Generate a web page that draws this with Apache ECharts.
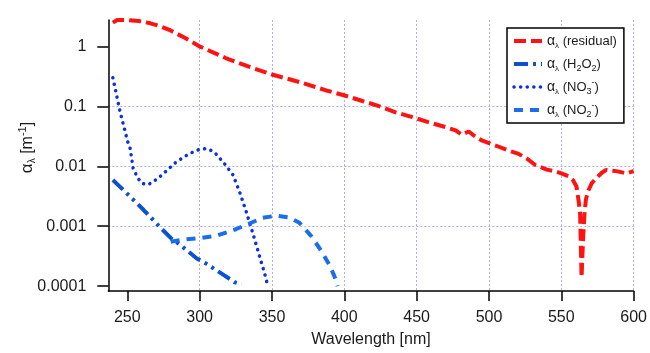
<!DOCTYPE html>
<html>
<head>
<meta charset="utf-8">
<title>Absorption coefficients</title>
<script src="https://cdn.jsdelivr.net/npm/echarts@6/dist/echarts.min.js"></script>
<style>
  html, body { margin: 0; padding: 0; background: #fff; }
  #chart { width: 650px; height: 353px; }
</style>
</head>
<body>
<div id="chart"></div>
<script>
// axis ticks
const xTicks = [250, 300, 350, 400, 450, 500, 550, 600];
const yTicks = [0.0001, 0.001, 0.01, 0.1, 1];
const yTickLabels = ["0.0001", "0.001", "0.01", "0.1", "1"];

// alpha (residual)
const resWl = [240, 243, 250, 258, 266, 272, 279, 290, 300, 310, 318, 335, 350, 370, 389, 401, 412, 425, 435, 447,
  458, 470, 477, 481, 486, 490, 495, 505, 513, 520, 526, 532, 540, 546, 550, 555, 558, 560.5, 562, 563, 564,
  565, 566, 567, 568.6, 571, 574, 578, 581, 584, 588, 592, 595, 600];
const resVal = [2.49, 2.76, 2.76, 2.65, 2.43, 2.2, 1.89, 1.38, 1.0, 0.78, 0.64, 0.45, 0.34, 0.25, 0.18, 0.15, 0.124, 0.099, 0.08, 0.066,
  0.0545, 0.045, 0.0397, 0.0337, 0.038, 0.032, 0.027, 0.022, 0.0185, 0.0163, 0.0135, 0.0105, 0.0088, 0.0082, 0.0076, 0.0068, 0.0059, 0.0046, 0.0026, 0.0016, 0.00014,
  0.0006, 0.0016, 0.0028, 0.0039, 0.0052, 0.0063, 0.0078, 0.0087, 0.0085, 0.0083, 0.0079, 0.0076, 0.0083];

// alpha (H2O2)
const h2o2Wl = [240, 249.5, 261, 272.5, 280.5, 286, 298, 305, 316, 324, 329];
const h2o2Val = [0.0059, 0.00357, 0.0019, 0.00097, 0.00062, 0.0005, 0.00029, 0.000234, 0.000157, 0.000117, 0.000107];

// alpha (NO3-)
const no3Wl = [240, 245, 250.6, 252, 254, 257, 260, 264, 268, 274, 284, 293, 300, 305, 310, 317, 323, 327.5, 332, 337, 341, 345, 347];
const no3Val = [0.30, 0.081, 0.024, 0.0197, 0.0093, 0.0065, 0.0052, 0.0049, 0.0055, 0.0072, 0.0119, 0.0163, 0.0192, 0.0197, 0.0174, 0.0112, 0.0072, 0.0038, 0.0018, 0.00073, 0.00034, 0.00016, 0.000103];

// alpha (NO2-)
const no2Wl = [280, 288.5, 300, 311.5, 325, 334, 343.5, 353, 362, 369, 377, 384, 389.5, 393, 395.3];
const no2Val = [0.00055, 0.0006, 0.00063, 0.00069, 0.00089, 0.0011, 0.00138, 0.0015, 0.0014, 0.00114, 0.00069, 0.00039, 0.00023, 0.00015, 0.0001];

const font = "'Liberation Sans', Arial, sans-serif";

const legendText = {
  residual: "{g|α}{l|λ} (residual)",
  H2O2: "{g|α}{l|λ} (H{b|2}O{b|2})",
  NO3: "{g|α}{l|λ} (NO{b|3}{p|-})",
  NO2: "{g|α}{l|λ} (NO{b|2}{p|-})"
};

const styles = {
  residual: { color: "#ff1212", width: 4, type: [12, 5], cap: "butt" },
  H2O2: { color: "#0c50d4", width: 4, type: [14, 5, 3, 5, 3, 5], cap: "butt" },
  NO3: { color: "#0b30e0", width: 3.5, type: [0.1, 6.5], cap: "round" },
  NO2: { color: "#1a6ee8", width: 4, type: [9, 7], cap: "butt" }
};

const pairs = (xs, ys) => xs.map((x, i) => [x, ys[i]]);

const makeLine = (name, xs, ys) => ({
  name: name,
  type: "line",
  data: pairs(xs, ys),
  symbol: "none",
  showSymbol: false,
  lineStyle: styles[name],
  itemStyle: { color: styles[name].color }
});

const chart = echarts.init(document.getElementById("chart"));

chart.setOption({
  animation: false,
  textStyle: { fontFamily: font },
  grid: { left: 108.3, right: 14.4, top: 20, bottom: 59, containLabel: false },
  xAxis: {
    type: "value",
    min: 236.85,
    max: 600,
    minInterval: 50,
    maxInterval: 50,
    name: "Wavelength [nm]",
    nameLocation: "middle",
    nameGap: 41,
    nameTextStyle: { fontSize: 16, color: "#1a1a1a", fontFamily: font },
    axisLine: { lineStyle: { color: "#000", width: 1.5 } },
    axisTick: { inside: false, length: 10, lineStyle: { color: "#000", width: 1.5 }, customValues: xTicks },
    axisLabel: { fontSize: 16, color: "#1a1a1a", margin: 19, customValues: xTicks, fontFamily: font },
    splitLine: { show: true, showMinLine: false, lineStyle: { color: "#b0b0f0", type: [2, 2], width: 1 } }
  },
  yAxis: {
    type: "log",
    logBase: 10,
    min: 0.0000830,
    max: 2.758,
    name: "{g|α}{l|λ} [m{p|-1}]",
    nameLocation: "middle",
    nameGap: 71,
    nameMoveOverlap: false,
    nameTextStyle: {
      fontSize: 16,
      color: "#1a1a1a",
      lineHeight: 20,
      padding: [0, 0, 0, 16],
      rich: {
        g: { fontSize: 17, lineHeight: 20, color: "#1a1a1a", fontFamily: font },
        l: { fontSize: 10, lineHeight: 10, verticalAlign: "bottom", color: "#1a1a1a", fontFamily: font },
        p: { fontSize: 11, lineHeight: 11, verticalAlign: "top", color: "#1a1a1a", fontFamily: font }
      }
    },
    axisLine: { show: true, lineStyle: { color: "#000", width: 1.5 } },
    axisTick: { show: true, inside: false, length: 11, lineStyle: { color: "#000", width: 1.5 }, customValues: yTicks },
    axisLabel: {
      fontSize: 16,
      color: "#1a1a1a",
      margin: 22,
      fontFamily: font,
      customValues: yTicks,
      formatter: function (v) {
        for (let i = 0; i < yTicks.length; i++) {
          if (Math.abs(Math.log10(v) - Math.log10(yTicks[i])) < 1e-6) return yTickLabels[i];
        }
        return "";
      }
    },
    splitLine: { show: true, showMinLine: false, showMaxLine: false, lineStyle: { color: "#b0b0f0", type: [2, 2], width: 1 } }
  },
  legend: {
    orient: "vertical",
    left: 507,
    top: 28,
    padding: [4, 7, 4, 5],
    itemGap: 5,
    itemWidth: 28,
    itemHeight: 14,
    borderColor: "#000",
    borderWidth: 1.5,
    backgroundColor: "#fff",
    itemStyle: { opacity: 0 },
    data: ["residual", "H2O2", "NO3", "NO2"].map((n) => ({
      name: n,
      itemStyle: { opacity: 0 },
      lineStyle: { color: styles[n].color, width: styles[n].width, type: styles[n].type, cap: styles[n].cap }
    })),
    formatter: function (name) { return legendText[name]; },
    textStyle: {
      fontSize: 13,
      lineHeight: 18,
      color: "#1a1a1a",
      fontFamily: font,
      rich: {
        g: { fontSize: 14, lineHeight: 18, color: "#1a1a1a", fontFamily: font },
        l: { fontSize: 8, lineHeight: 9, verticalAlign: "bottom", color: "#1a1a1a", fontFamily: font },
        b: { fontSize: 9, lineHeight: 9, verticalAlign: "bottom", color: "#1a1a1a", fontFamily: font },
        p: { fontSize: 9, lineHeight: 9, verticalAlign: "top", color: "#1a1a1a", fontFamily: font }
      }
    }
  },
  series: ["residual", "H2O2", "NO3", "NO2"].map((n, i) =>
    makeLine(n, [resWl, h2o2Wl, no3Wl, no2Wl][i], [resVal, h2o2Val, no3Val, no2Val][i]))
});
</script>
</body>
</html>
